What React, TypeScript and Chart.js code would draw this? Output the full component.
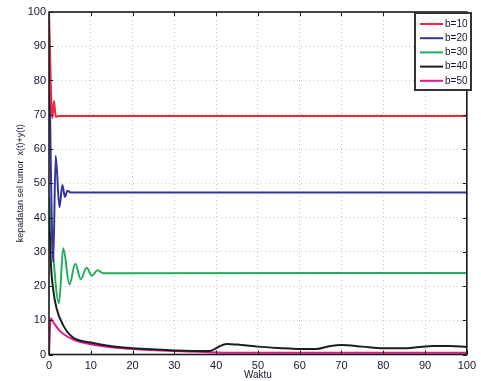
import React, { useEffect, useRef } from "react";
import { Chart, registerables } from "chart.js";

Chart.register(...registerables);

// ---- data ----
const xTickValues = [0, 10, 20, 30, 40, 50, 60, 70, 80, 90, 100];
const yTickValues = [0, 10, 20, 30, 40, 50, 60, 70, 80, 90, 100];
const seriesLabels = ["b=10", "b=20", "b=30", "b=40", "b=50"];
const seriesColors = ["#f02838", "#34349c", "#20ae5e", "#1e1e1e", "#e4168c"];

const b10T = [0, 0.8, 1.2, 1.6, 2.2, 100];
const b10Y = [100, 69, 74, 69.4, 69.6, 69.6];

const b20T = [0, 1.0, 1.6, 2.5, 3.2, 3.8, 4.4, 5.2, 100];
const b20Y = [90, 27, 58, 43, 49.5, 46, 47.8, 47.3, 47.3];

const b30T = [0, 2.4, 3.4, 4.9, 6.3, 7.6, 9.0, 10.3, 11.6, 13, 100];
const b30Y = [45, 15, 31, 20.5, 26.5, 22, 25.3, 23, 24.6, 23.7, 23.8];

const b40T = [0, 0.4, 1, 1.8, 3.4, 5.7, 10, 15, 20, 30, 38.5, 40.5, 42.5, 46, 50, 55, 60, 64, 67, 70, 75, 80, 85, 88, 92, 96, 100];
const b40Y = [46, 28, 19, 13.5, 8.5, 5, 3.5, 2.4, 1.8, 1.2, 1.0, 2.2, 3.1, 2.8, 2.3, 1.9, 1.6, 1.6, 2.4, 2.8, 2.3, 1.8, 1.8, 2.1, 2.5, 2.5, 2.2];

const b50T = [0, 0.4, 1, 2.6, 5.7, 10, 15, 20, 30, 40, 50, 100];
const b50Y = [0, 10.6, 9.5, 6.9, 4.4, 3, 2.1, 1.6, 1.0, 0.6, 0.5, 0.5];

const seriesT = [b10T, b20T, b30T, b40T, b50T];
const seriesY = [b10Y, b20Y, b30Y, b40Y, b50Y];

const FONT = "'Liberation Sans', Arial, sans-serif";
const TEXT = "#161630";

const framePlugin = {
  id: "frame",
  afterDraw(chart: any) {
    const { ctx, chartArea: a } = chart;
    const xs = chart.scales.x;
    const ys = chart.scales.y;
    ctx.save();
    ctx.strokeStyle = "#1a1a1a";
    ctx.lineWidth = 1;
    const tl = 4;
    ctx.beginPath();
    xs.ticks.forEach((t: any) => {
      const px = Math.round(xs.getPixelForValue(t.value)) + 0.5;
      ctx.moveTo(px, a.bottom);
      ctx.lineTo(px, a.bottom - tl);
      ctx.moveTo(px, a.top);
      ctx.lineTo(px, a.top + tl);
    });
    ys.ticks.forEach((t: any) => {
      const py = Math.round(ys.getPixelForValue(t.value)) + 0.5;
      ctx.moveTo(a.left, py);
      ctx.lineTo(a.left + tl, py);
      ctx.moveTo(a.right, py);
      ctx.lineTo(a.right - tl, py);
    });
    ctx.stroke();
    ctx.lineWidth = 1.6;
    ctx.strokeRect(a.left, a.top, a.right - a.left, a.bottom - a.top);

    // legend
    const lx = 415, ly = 13, lw = 56, lh = 77;
    ctx.fillStyle = "#ffffff";
    ctx.fillRect(lx, ly, lw, lh);
    ctx.lineWidth = 2;
    ctx.strokeStyle = "#333333";
    ctx.strokeRect(lx, ly, lw, lh);
    ctx.font = `10px ${FONT}`;
    ctx.textBaseline = "middle";
    ctx.textAlign = "left";
    chart.data.datasets.forEach((ds: any, i: number) => {
      const yy = ly + 11 + i * 14.2;
      ctx.strokeStyle = ds.borderColor;
      ctx.lineWidth = 2;
      ctx.beginPath();
      ctx.moveTo(lx + 5, yy);
      ctx.lineTo(lx + 28, yy);
      ctx.stroke();
      ctx.fillStyle = TEXT;
      ctx.fillText(ds.label, lx + 30, yy);
    });
    ctx.restore();
  },
};

export default function App() {
  const ref = useRef<HTMLCanvasElement | null>(null);
  useEffect(() => {
    if (!ref.current) return;
    const datasets = seriesLabels.map((label, i) => ({
      label,
      data: seriesT[i].map((t, j) => ({ x: t, y: seriesY[i][j] })),
      borderColor: seriesColors[i],
      backgroundColor: seriesColors[i],
      borderWidth: 2,
      pointRadius: 0,
      fill: false,
      cubicInterpolationMode: "monotone" as const,
    }));
    const chart = new Chart(ref.current, {
      type: "line",
      data: { datasets },
      plugins: [framePlugin],
      options: {
        responsive: false,
        animation: false,
        layout: { padding: { left: 0, top: 12, right: 6, bottom: 0 } },
        plugins: { legend: { display: false }, tooltip: { enabled: false } },
        scales: {
          x: {
            type: "linear",
            min: 0,
            max: 100,
            afterBuildTicks: (s: any) => {
              s.ticks = xTickValues.map((v) => ({ value: v }));
            },
            afterFit: (s: any) => {
              s.height = 26.5;
            },
            grid: { color: "#c4c4c4", drawTicks: false, lineWidth: 1 },
            border: { display: false, dash: [1, 3] },
            ticks: { padding: 5, color: TEXT, font: { family: FONT, size: 11 }, maxRotation: 0 },
            title: { display: true, text: "Waktu", color: TEXT, font: { family: FONT, size: 10 }, padding: { top: 0, bottom: 0 } },
          },
          y: {
            type: "linear",
            min: 0,
            max: 100,
            afterBuildTicks: (s: any) => {
              s.ticks = yTickValues.map((v) => ({ value: v }));
            },
            afterFit: (s: any) => {
              s.width = 49;
            },
            grid: { color: "#c4c4c4", drawTicks: false, lineWidth: 1 },
            border: { display: false, dash: [1, 3] },
            ticks: { padding: 3, color: TEXT, font: { family: FONT, size: 11 } },
            title: { display: true, text: "kepadatan sel tumor  x(t)+y(t)", color: TEXT, font: { family: FONT, size: 9 }, padding: { top: 15, bottom: 0 } },
          },
        },
      } as any,
    });
    return () => chart.destroy();
  }, []);
  return (
    <div style={{ position: "absolute", left: 0, top: 0, width: 481, height: 381, background: "#fff" }}>
      <canvas ref={ref} width={481} height={381} style={{ display: "block" }} />
    </div>
  );
}
